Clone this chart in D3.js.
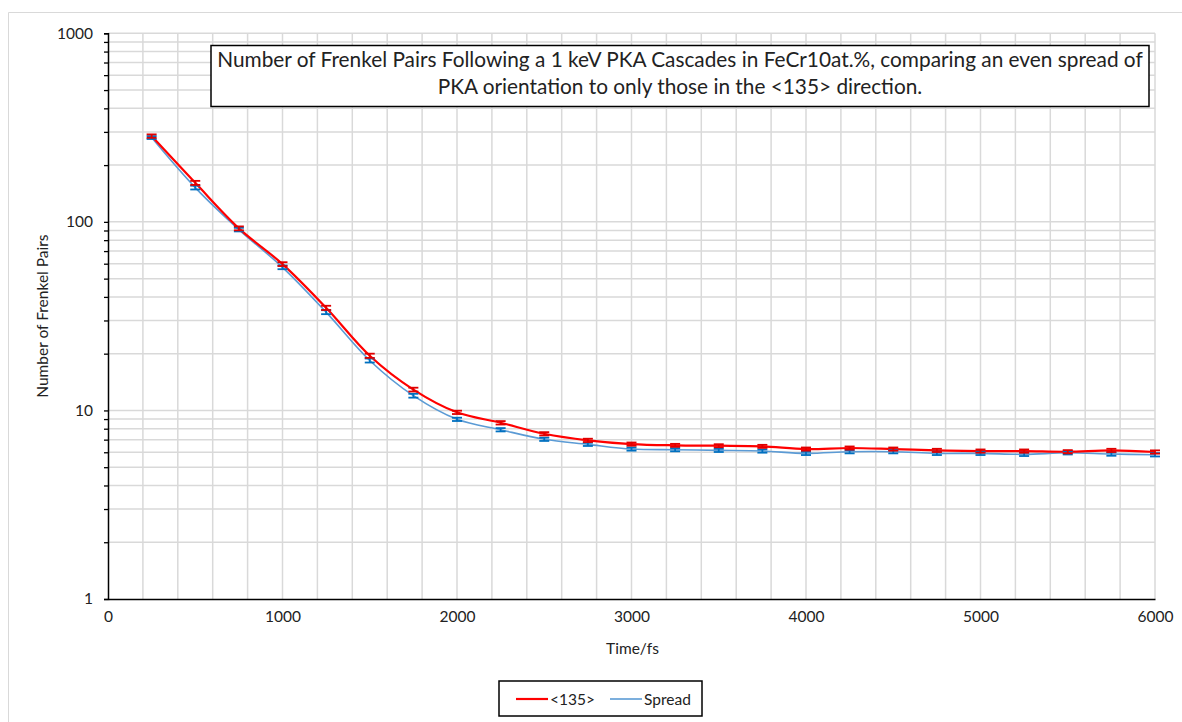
<!DOCTYPE html>
<html>
<head>
<meta charset="utf-8">
<script src="https://cdn.jsdelivr.net/npm/d3@7"></script>
<style>
  body { margin: 0; background: #fff; }
  text { font-family: Lato, "Open Sans", "Liberation Sans", sans-serif; fill: #222; }
</style>
</head>
<body>
<svg id="chart" width="1182" height="722"></svg>
<script>
// Frenkel pair counts after 1 keV PKA cascades in FeCr10at.%
const times = [250, 500, 750, 1000, 1250, 1500, 1750, 2000, 2250, 2500, 2750, 3000,
               3250, 3500, 3750, 4000, 4250, 4500, 4750, 5000, 5250, 5500, 5750, 6000];
const dir135 = [285, 161, 92.4, 59.7, 35.0, 19.5, 12.9, 9.77, 8.6, 7.52, 6.94, 6.63,
                6.53, 6.50, 6.45, 6.24, 6.32, 6.24, 6.14, 6.09, 6.09, 6.04, 6.14, 6.02];
const dir135Err = [6, 4, 2.2, 1.4, 0.9, 0.5, 0.3, 0.2, 0.18, 0.15, 0.14, 0.13,
                   0.12, 0.12, 0.12, 0.12, 0.12, 0.12, 0.12, 0.12, 0.12, 0.12, 0.12, 0.12];
const spread = [280, 152, 91, 57.4, 33.2, 18.4, 11.97, 8.97, 7.9, 7.03, 6.61, 6.24,
                6.19, 6.14, 6.09, 5.92, 6.04, 6.04, 5.92, 5.92, 5.85, 5.96, 5.87, 5.82];
const spreadErr = [5, 3.5, 2, 1.3, 0.8, 0.45, 0.28, 0.18, 0.16, 0.14, 0.13, 0.12,
                   0.12, 0.12, 0.12, 0.12, 0.12, 0.12, 0.12, 0.12, 0.12, 0.12, 0.12, 0.12];
const xTickLabels = [0, 1000, 2000, 3000, 4000, 5000, 6000];
const yTickLabels = [1, 10, 100, 1000];
const seriesNames = ["<135>", "Spread"];
const titleLines = [
  "Number of Frenkel Pairs Following a 1 keV PKA Cascades in FeCr10at.%, comparing an even spread of",
  "PKA orientation to only those in the <135> direction."
];

const svg = d3.select("#chart");
const W = 1182, H = 722;
const plot = { left: 108, right: 1155, top: 33.3, bottom: 599 };
const labelSize = 15.5;

svg.append("rect").attr("width", W).attr("height", H).attr("fill", "#fff");

// outer chart frame
svg.append("path")
  .attr("d", `M8.5,${H} V12.5 H${W}`)
  .attr("fill", "none").attr("stroke", "#d9d9d9").attr("stroke-width", 1);

const x = d3.scaleLinear().domain([0, 6000]).range([plot.left, plot.right]);
const y = d3.scaleLog().domain([1, 1000]).range([plot.bottom, plot.top]);

// gridlines: every 200 fs, and every 1..9 per decade
const xGrid = d3.range(200, 6001, 200);
const yGrid = [];
for (let d = 1; d < 1000; d *= 10) for (let m = 1; m <= 9; m++) if (d * m > 1) yGrid.push(d * m);
yGrid.push(1000);

const grid = svg.append("g").attr("stroke", "#d9d9d9").attr("stroke-width", 1.5);
grid.selectAll("line.v").data(xGrid).join("line").attr("class", "v")
  .attr("x1", d => x(d)).attr("x2", d => x(d))
  .attr("y1", plot.top).attr("y2", plot.bottom);
grid.selectAll("line.h").data(yGrid).join("line").attr("class", "h")
  .attr("x1", plot.left).attr("x2", plot.right)
  .attr("y1", d => y(d)).attr("y2", d => y(d));

// y axis with minor ticks
const yMinor = [];
for (let d = 1; d < 1000; d *= 10) for (let m = 1; m <= 9; m++) yMinor.push(d * m);
yMinor.push(1000);
const yAxis = d3.axisLeft(y).tickValues(yMinor).tickSize(4)
  .tickFormat(d => yTickLabels.includes(d) ? d3.format("d")(d) : "");
const gy = svg.append("g").attr("transform", `translate(${plot.left},0)`).call(yAxis);
gy.select(".domain").attr("stroke", "#000").attr("stroke-width", 1.5);
gy.selectAll(".tick line").attr("stroke", "#000").attr("stroke-width", 1.3);
gy.selectAll(".tick text").attr("x", -15).attr("font-size", labelSize).attr("fill", "#222")
  .style("font-family", "Lato, sans-serif");

// x axis
const xAxis = d3.axisBottom(x).tickValues(xTickLabels).tickSize(0).tickFormat(d3.format("d"));
const gx = svg.append("g").attr("transform", `translate(0,${plot.bottom})`).call(xAxis);
gx.select(".domain").attr("stroke", "#000").attr("stroke-width", 1.5);
gx.selectAll(".tick text").attr("y", 12).attr("font-size", labelSize).attr("fill", "#222")
  .style("font-family", "Lato, sans-serif");

// axis titles
svg.append("text").attr("x", (plot.left + plot.right) / 2 + 1).attr("y", 654)
  .attr("text-anchor", "middle").attr("font-size", labelSize).text("Time/fs");
svg.append("text").attr("transform", `translate(48,${(plot.top + plot.bottom) / 2}) rotate(-90)`)
  .attr("text-anchor", "middle").attr("font-size", labelSize).text("Number of Frenkel Pairs");

// series
const series = [
  { name: seriesNames[1], values: spread, err: spreadErr, line: "#5b9bd5", lw: 1.6, bar: "#0070c0" },
  { name: seriesNames[0], values: dir135, err: dir135Err, line: "#ff0000", lw: 2.2, bar: "#e00000" }
];
const lineGen = d3.line().x(d => x(d[0])).y(d => y(d[1])).curve(d3.curveCatmullRom.alpha(0.5));

series.forEach(s => {
  svg.append("path")
    .datum(times.map((t, i) => [t, s.values[i]]))
    .attr("d", lineGen).attr("fill", "none")
    .attr("stroke", s.line).attr("stroke-width", s.lw);
});
series.forEach(s => {
  const g = svg.append("g").attr("stroke", s.bar).attr("stroke-width", 1.8);
  const pts = times.map((t, i) => ({ t, v: s.values[i], e: s.err[i] }));
  g.selectAll("line.stem").data(pts).join("line").attr("class", "stem")
    .attr("x1", d => x(d.t)).attr("x2", d => x(d.t))
    .attr("y1", d => y(d.v + d.e)).attr("y2", d => y(d.v - d.e));
  g.selectAll("line.top").data(pts).join("line").attr("class", "top")
    .attr("x1", d => x(d.t) - 5).attr("x2", d => x(d.t) + 5)
    .attr("y1", d => y(d.v + d.e)).attr("y2", d => y(d.v + d.e));
  g.selectAll("line.bot").data(pts).join("line").attr("class", "bot")
    .attr("x1", d => x(d.t) - 5).attr("x2", d => x(d.t) + 5)
    .attr("y1", d => y(d.v - d.e)).attr("y2", d => y(d.v - d.e));
});

// title box
const tb = { x: 211, y: 45.5, w: 938, h: 61 };
svg.append("rect").attr("x", tb.x).attr("y", tb.y).attr("width", tb.w).attr("height", tb.h)
  .attr("fill", "#fff").attr("stroke", "#000").attr("stroke-width", 1.5);
const t1 = svg.append("text").attr("x", tb.x + tb.w / 2).attr("y", 67)
  .attr("text-anchor", "middle").attr("font-size", 19).attr("fill", "#000").text(titleLines[0]);
const len = t1.node().getComputedTextLength();
const fs = 19 * 926 / len;
t1.attr("font-size", fs);
svg.append("text").attr("x", tb.x + tb.w / 2).attr("y", 94)
  .attr("text-anchor", "middle").attr("font-size", fs).attr("fill", "#000").text(titleLines[1]);

// legend
const lg = svg.append("g");
lg.append("rect").attr("x", 499).attr("y", 681).attr("width", 203).attr("height", 35)
  .attr("fill", "#fff").attr("stroke", "#000").attr("stroke-width", 1.5);
const legendItems = [
  { name: seriesNames[0], color: "#ff0000", lw: 2.2, x0: 516 },
  { name: seriesNames[1], color: "#5b9bd5", lw: 1.6, x0: 610 }
];
legendItems.forEach(it => {
  lg.append("line").attr("x1", it.x0).attr("x2", it.x0 + 32).attr("y1", 699).attr("y2", 699)
    .attr("stroke", it.color).attr("stroke-width", it.lw);
  lg.append("text").attr("x", it.x0 + 34).attr("y", 704.5).attr("font-size", labelSize).text(it.name);
});
</script>
</body>
</html>
